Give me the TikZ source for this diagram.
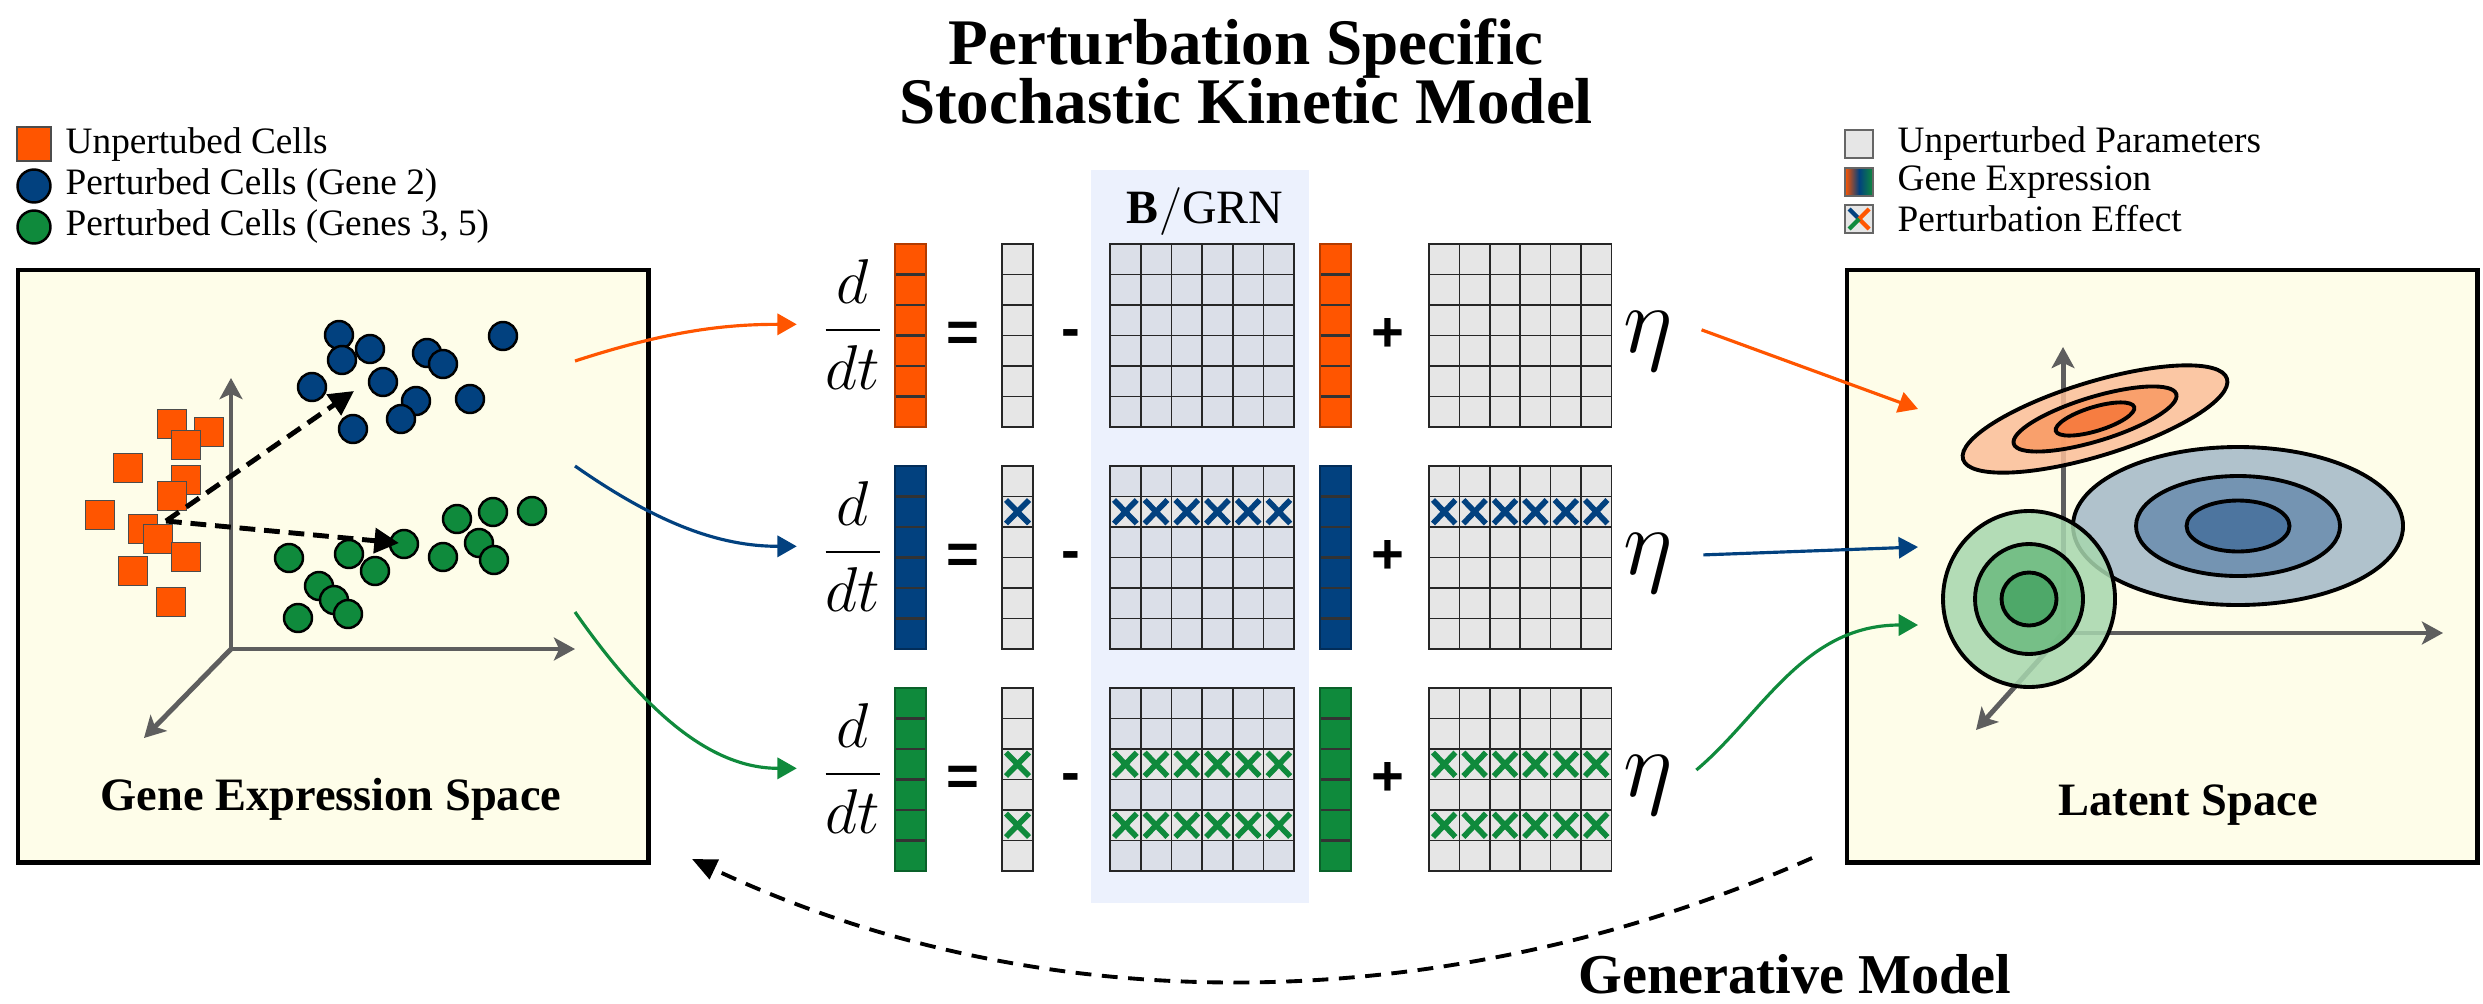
\RequirePackage{fix-cm}
\documentclass[tikz,border=0pt]{standalone}
\usepackage{fontspec}
\setmainfont{Liberation Serif}
\newfontfamily\opfont{Liberation Sans}
\usetikzlibrary{arrows.meta,positioning}

\definecolor{orgC}{HTML}{FF5500}
\definecolor{bluC}{HTML}{02417F}
\definecolor{grnC}{HTML}{0F8A3C}
\definecolor{creamC}{HTML}{FEFDE9}
\definecolor{parC}{HTML}{E6E6E6}
\definecolor{grnbC}{HTML}{DBDFE8}
\definecolor{bandC}{HTML}{ECF1FD}
\definecolor{axC}{HTML}{5E5E5E}
\definecolor{orgA}{HTML}{FBBE98}
\definecolor{orgB}{HTML}{F99A63}
\definecolor{orgD}{HTML}{F6773A}
\definecolor{bluA}{HTML}{A3B8C8}
\definecolor{bluB}{HTML}{6A8DAE}
\definecolor{bluD}{HTML}{47709C}
\definecolor{grnA}{HTML}{A7D7AE}
\definecolor{grnB}{HTML}{6CBB7F}
\definecolor{grnD}{HTML}{48A564}

\begin{document}
\begin{tikzpicture}
[x=0.01cm,y=-0.01cm,
 spacebox/.style={draw=black,line width=1.2pt,fill=creamC,minimum width=6.3cm,
   minimum height=5.92cm,anchor=north west,inner sep=0pt},
 boxlabel/.style={font=\fontsize{13.2}{15}\selectfont\bfseries},
 legtext/.style={anchor=west,inner sep=0pt,font=\fontsize{10.6}{12}\selectfont},
 axis/.style={draw=axC,line width=1.4pt,-{Stealth[length=6pt,width=6.5pt,inset=1.5pt]}},
 sqmark/.style={draw=black!70,line width=0.4pt,fill=orgC},
 cmark/.style={draw=black,line width=0.7pt,fill=#1},
 dasharr/.style={draw=black,line width=1.4pt,dash pattern=on 4.5pt off 2.5pt,
   -{Triangle[length=7pt,width=7pt]}},
 genarr/.style={draw=black,line width=1.1pt,dash pattern=on 4.5pt off 3pt,
   -{Triangle[length=7pt,width=6pt]}},
 garr/.style={draw=#1,line width=0.9pt,-{Triangle[length=5.5pt,width=6pt]}},
 pcell/.style={draw=black!85,line width=0.45pt,fill=parC},
 bcell/.style={draw=black!85,line width=0.45pt,fill=grnbC},
 vsep/.style={draw=black!80,line width=0.6pt},
 xmark/.style={draw=#1,line width=1.6pt},
 opsym/.style={font=\opfont\bfseries\fontsize{16}{18}\selectfont,inner sep=0pt},
 frac/.style={font=\fontsize{18}{20}\selectfont,inner sep=0pt,anchor=base},
 etasym/.style={font=\fontsize{27}{30}\selectfont,inner sep=0pt,anchor=base},
 ell/.style={draw=black,line width=1.1pt,fill opacity=0.85}]

\useasboundingbox (0,0) rectangle (2483,1003);

% title
\node[anchor=north,align=center,inner sep=0pt,
  font=\fontsize{18.5}{16.8}\selectfont\bfseries] (title) at (1246,18)
  {Perturbation Specific\\Stochastic Kinetic Model};

% legend, left
\draw[sqmark,line width=0.6pt] (17,127) rectangle (51,161);
\node[legtext] (lgU) at (65,145) {Unpertubed Cells};
\draw[cmark=bluC] (34,186) circle (16.5);
\node[legtext] (lgB) at (65,186) {Perturbed Cells (Gene 2)};
\draw[cmark=grnC] (34,227) circle (16.5);
\node[legtext] (lgG) at (65,227) {Perturbed Cells (Genes 3, 5)};

% legend, right
\draw[pcell,draw=black!60] (1845,130) rectangle (1873,158);
\node[legtext] (lgP) at (1897,144) {Unperturbed Parameters};
\shade[left color=orgC,right color=grnC,middle color=bluC] (1845,168) rectangle (1873,196);
\draw[black!60,line width=0.4pt] (1845,168) rectangle (1873,196);
\node[legtext] (lgE) at (1897,182) {Gene Expression};
\draw[pcell,draw=black!60] (1845,205) rectangle (1873,233);
\draw[xmark=bluC,line width=1.2pt] (1849,209) -- (1859,219);
\draw[xmark=orgC,line width=1.2pt] (1859,219) -- (1869,229) (1869,209) -- (1859,219);
\draw[xmark=grnC,line width=1.2pt] (1859,219) -- (1849,229);
\node[legtext] (lgX) at (1897,219) {Perturbation Effect};

% gene expression space
\node[spacebox] (gbox) at (16,268) {};
\node[boxlabel] (glab) at (331,799) {Gene Expression Space};
\coordinate (gO) at (231,649);
\draw[axis] (gO) -- (231,378);
\draw[axis] (gO) -- (575,649);
\draw[axis] (gO) -- (144,738);
\foreach \x/\y in {172/424,209/432,186/445,128/468,186/480,172/496,100/515,
                   143/529,158/539,186/557,133/571,171/602}
  \draw[sqmark] (\x-14.5,\y-14.5) rectangle +(29,29);
\foreach \x/\y in {339/335,503/336,370/349,427/353,342/360,443/364,383/382,
                   312/387,470/399,416/401,401/419,353/429}
  \draw[cmark=bluC] (\x,\y) circle (14);
\foreach \x/\y in {532/511,493/512,457/519,479/543,404/544,349/554,443/557,
                   289/558,494/560,375/571,319/586,334/600,348/614,298/618}
  \draw[cmark=grnC] (\x,\y) circle (14);
\coordinate (cS) at (166,521);
\coordinate (cB) at (354,391);
\coordinate (cG) at (399,543);
\draw[dasharr] (cS) -- (cB);
\draw[dasharr] (cS) -- (cG);

% latent space
\node[spacebox] (lbox) at (1845,268) {};
\node[boxlabel] (llab) at (2188,805) {Latent Space};
\coordinate (lO) at (2063,633);
\draw[axis] (lO) -- (2063,347);
\draw[axis] (lO) -- (2443,633);
\draw[axis] (lO) -- (1976,730);
\begin{scope}[rotate around={17:(2095,419)}]
  \draw[ell,fill=orgA] (2095,419) ellipse [x radius=138,y radius=37];
  \draw[ell,fill=orgB] (2095,419) ellipse [x radius=85,y radius=22];
  \draw[ell,fill=orgD] (2095,419) ellipse [x radius=41,y radius=12];
\end{scope}
\draw[ell,fill=bluA] (2238,526) ellipse [x radius=165,y radius=79];
\draw[ell,fill=bluB] (2238,526) ellipse [x radius=102,y radius=50];
\draw[ell,fill=bluD] (2238,526) ellipse [x radius=51.5,y radius=25.5];
\draw[ell,fill=grnA] (2029,599) ellipse [x radius=86,y radius=88];
\draw[ell,fill=grnB] (2029,599) ellipse [x radius=54,y radius=55];
\draw[ell,fill=grnD] (2029,599) ellipse [x radius=27.5,y radius=26.5];

% B/GRN band
\fill[bandC] (1091,170) rectangle (1309,903);
\node[font=\fontsize{13.6}{16}\selectfont,anchor=base,inner sep=0pt] (grn) at (1205,223)
  {$\mathbf{B}/\mathrm{GRN}$};

% kinetic model rows
\foreach \r/\T/\C/\L in {1/244/orgC/0,2/466/bluC/2,3/688/grnC/{3,5}}{
  % expression vectors
  \foreach \gx in {895,1320}{
    \fill[\C] (\gx,\T) rectangle +(31,183);
    \foreach \i in {1,...,5} \draw[vsep] (\gx,\T+\i*30.5) -- +(31,0);
    \draw[\C!70!black,line width=0.4pt] (\gx,\T) rectangle +(31,183);
  }
  % parameter vector, B matrix, noise matrix
  \foreach \i in {0,...,5}{
    \draw[pcell] (1002,\T+\i*30.5) rectangle +(31,30.5);
    \foreach \j in {0,...,5}{
      \draw[bcell] (1110+\j*30.7,\T+\i*30.5) rectangle +(30.7,30.5);
      \draw[pcell] (1429+\j*30.4,\T+\i*30.5) rectangle +(30.4,30.5);
    }
  }
  % perturbed genes
  \foreach \k in \L{
    \ifnum\k>0
      \pgfmathsetmacro\Y{\T+(\k-1)*30.5}
      \draw[xmark=\C] (1006,\Y+3.5) -- +(23,23.5) (1029,\Y+3.5) -- +(-23,23.5);
      \foreach \j in {0,...,5}{
        \draw[pcell] (1110+\j*30.7,\Y) rectangle +(30.7,30.5);
        \draw[xmark=\C] (1114+\j*30.7,\Y+3.5) -- +(22.7,23.5)
                        (1136.7+\j*30.7,\Y+3.5) -- +(-22.7,23.5);
        \draw[xmark=\C] (1433+\j*30.4,\Y+3.5) -- +(22.4,23.5)
                        (1455.4+\j*30.4,\Y+3.5) -- +(-22.4,23.5);
      }
    \fi
  }
  \node[frac] (ddt\r) at (853,\T+102) {$\displaystyle\frac{d}{dt}$};
  \node[opsym] (eq\r) at (963,\T+93) {=};
  \node[opsym] (mi\r) at (1071,\T+95) {-};
  \node[opsym] (pl\r) at (1388,\T+91) {+};
  \node[etasym] (eta\r) at (1648,\T+108) {$\eta$};
}

% into the kinetic model
\coordinate (oS) at (575,361);
\coordinate (bS) at (575,466);
\coordinate (gS) at (575,612);
\draw[garr=orgC,shorten >=0.24cm] (oS) to[out=18,in=180] (ddt1);
\draw[garr=bluC,shorten >=0.24cm] (bS) to[out=-35,in=180] (ddt2);
\draw[garr=grnC,shorten >=0.24cm] (gS) to[out=-55,in=180] (ddt3);

% into the latent space
\coordinate (oT) at (1918,409);
\coordinate (bT) at (1918,547);
\coordinate (gT) at (1918,625);
\draw[garr=orgC,shorten <=0.3cm] (eta1.40) -- (oT);
\draw[garr=bluC,shorten <=0.3cm] (eta2.15) -- (bT);
\draw[garr=grnC,shorten <=0.3cm] (eta3.-10) to[out=40,in=180] (gT);

% generative model
\coordinate (genS) at (1812,858);
\coordinate (genE) at (692,859);
\draw[genarr] (genS) .. controls (1450,1018) and (1047,1026) .. (genE);
\node[anchor=base west,inner sep=0pt,font=\fontsize{16}{18}\selectfont\bfseries]
  (gen) at (1578,993) {Generative Model};
\end{tikzpicture}
\end{document}
